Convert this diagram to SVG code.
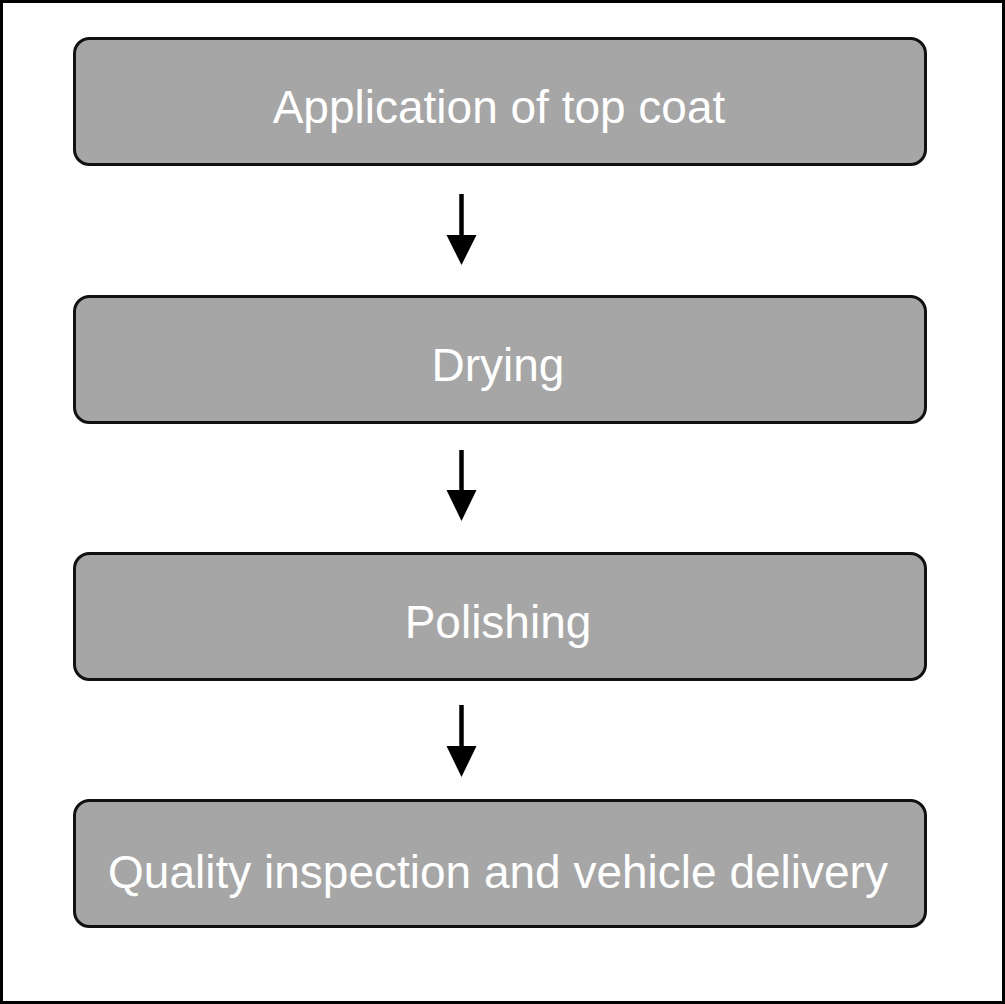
<svg xmlns="http://www.w3.org/2000/svg" width="1005" height="1004" viewBox="0 0 1005 1004">
<style>
.box{fill:#a6a6a6;stroke:#111;stroke-width:3}
.lbl{fill:#fff;font-family:"Liberation Sans",Arial,sans-serif;font-size:46px;text-anchor:middle}
.ln{stroke:#000;stroke-width:4.5}
.hd{fill:#000}
</style>
<rect x="1.5" y="1.5" width="1002" height="1001" fill="#fff" stroke="#000" stroke-width="3"/>
<g id="n1"><rect class="box" x="74.5" y="38.5" width="851" height="126" rx="15"/><text class="lbl" x="499" y="123">Application of top coat</text></g>
<g id="n2"><rect class="box" x="74.5" y="296.5" width="851" height="126" rx="15"/><text class="lbl" x="498" y="381">Drying</text></g>
<g id="n3"><rect class="box" x="74.5" y="553.5" width="851" height="126" rx="15"/><text class="lbl" x="498" y="638">Polishing</text></g>
<g id="n4"><rect class="box" x="74.5" y="800.5" width="851" height="126" rx="15"/><text class="lbl" x="498" y="888">Quality inspection and vehicle delivery</text></g>
<g id="connectors">
<line class="ln" x1="461.5" y1="194" x2="461.5" y2="238"/><polygon class="hd" points="446.5,235 476.5,235 461.5,265"/>
<line class="ln" x1="461.5" y1="450" x2="461.5" y2="493"/><polygon class="hd" points="446.5,490 476.5,490 461.5,521"/>
<line class="ln" x1="461.5" y1="705" x2="461.5" y2="749"/><polygon class="hd" points="446.5,746 476.5,746 461.5,777"/>
</g>
</svg>
